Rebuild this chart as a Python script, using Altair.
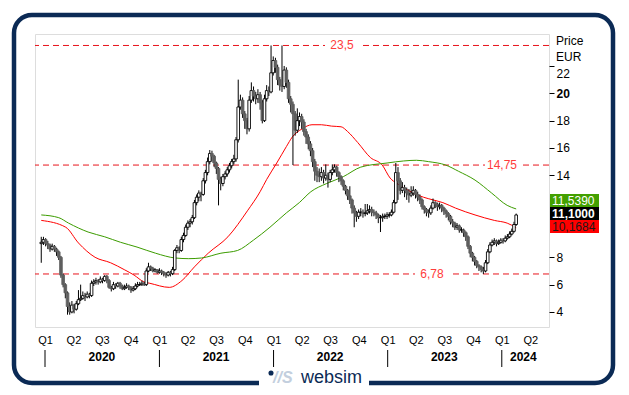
import altair as alt
import pandas as pd

# ---------------- data ----------------
start_date = "2019-12-20"   # first weekly candle
closes = [9.1, 9.3, 9.0, 8.9, 8.6, 8.8, 8.6, 8.4, 8.0, 6.7,
          6.0, 5.4, 4.4, 4.0, 4.5, 4.2, 4.6, 4.9, 5.0, 5.2,
          5.1, 5.3, 5.2, 6.1, 6.2, 6.3, 6.2, 6.4, 6.3, 6.6,
          6.3, 5.8, 5.7, 6.0, 5.9, 6.1, 5.9, 5.7, 5.8, 5.9,
          5.8, 5.6, 5.7, 5.9, 6.0, 6.0, 6.1, 6.0, 7.0, 7.3,
          7.2, 7.0, 7.1, 6.9, 7.0, 6.9, 6.8, 6.7, 6.9, 6.8,
          7.1, 8.5, 8.7, 8.5, 9.3, 9.6, 10.2, 10.5, 10.6, 10.9,
          12.0, 12.4, 12.7, 12.6, 13.6, 14.2, 15.0, 15.6, 15.4, 14.9,
          14.5, 13.7, 13.4, 13.9, 14.1, 14.4, 14.7, 15.0, 15.2, 16.6,
          19.0, 19.5, 18.5, 18.0, 17.4, 19.5, 20.2, 19.8, 19.6, 19.9,
          19.3, 18.0, 19.6, 20.2, 20.1, 21.5, 22.4, 21.9, 21.0, 20.6,
          20.5, 21.7, 20.8, 19.6, 19.2, 18.5, 17.3, 18.0, 18.3, 17.9,
          17.2, 16.8, 16.3, 15.8, 15.0, 14.3, 14.0, 13.9, 14.2, 13.8,
          14.0, 13.7, 14.2, 14.4, 14.6, 14.2, 13.9, 13.6, 13.2, 12.9,
          12.5, 12.2, 11.6, 11.25, 11.0, 11.3, 11.3, 11.2, 11.25, 11.4,
          11.5, 11.3, 11.25, 11.1, 10.9, 10.9, 11.0, 11.0, 11.1, 11.1,
          11.3, 12.0, 14.2, 13.6, 12.9, 13.1, 12.9, 12.7, 12.55, 12.7,
          12.9, 12.6, 12.4, 12.2, 11.7, 11.5, 11.3, 11.25, 11.6, 12.0,
          11.9, 11.7, 11.8, 11.6, 11.4, 11.2, 11.0, 10.6, 10.5, 10.2,
          10.3, 10.0, 10.0, 9.8, 9.5, 8.8, 8.3, 8.0, 7.7, 7.4,
          7.3, 7.1, 7.0, 7.6, 8.4, 8.9, 9.1, 9.2, 9.0, 9.1,
          9.25, 9.2, 9.4, 9.5, 9.7, 9.9, 10.4, 11.1]
first_open = 9.0
highs = [9.5, 9.5, 9.4, 9.2, 9.0, 9.0, 8.9, 8.7, 8.5, 8.1,
         6.8, 6.1, 5.5, 4.7, 4.8, 4.6, 4.8, 5.6, 6.0, 5.5,
         5.4, 5.5, 5.4, 6.3, 6.4, 6.5, 6.4, 6.6, 6.5, 6.7,
         6.7, 6.4, 5.9, 6.2, 6.1, 6.2, 6.2, 6.0, 6.0, 6.1,
         6.0, 5.9, 5.9, 6.1, 6.2, 6.2, 6.3, 6.2, 7.2, 7.6,
         7.4, 7.3, 7.2, 7.1, 7.2, 7.1, 7.0, 6.9, 7.0, 7.0,
         7.3, 8.6, 8.9, 8.8, 9.5, 9.8, 10.4, 10.7, 10.8, 11.1,
         12.2, 12.6, 12.9, 12.8, 13.8, 14.4, 15.3, 15.85, 15.8, 15.5,
         15.0, 14.6, 13.9, 14.1, 14.3, 14.6, 14.9, 15.2, 15.5, 16.8,
         21.0, 19.9, 19.7, 18.7, 18.2, 19.8, 20.8, 20.5, 20.1, 20.3,
         20.1, 19.5, 19.9, 20.6, 20.5, 23.5, 22.7, 22.6, 22.1, 21.2,
         23.5, 22.0, 21.9, 21.0, 19.8, 19.4, 18.7, 18.9, 18.6, 18.5,
         18.1, 17.4, 17.0, 16.5, 16.0, 15.2, 14.6, 14.5, 14.6, 14.4,
         14.8, 14.2, 14.4, 14.8, 14.8, 14.7, 14.3, 14.0, 13.7, 13.3,
         13.0, 13.2, 12.3, 11.8, 11.4, 11.5, 11.6, 11.5, 11.9, 11.9,
         11.8, 11.7, 11.5, 11.4, 11.2, 11.1, 11.2, 11.2, 11.3, 11.3,
         11.5, 12.2, 14.9, 14.6, 13.8, 13.5, 13.3, 13.1, 13.0, 13.2,
         13.2, 13.0, 12.8, 12.6, 12.3, 11.8, 11.6, 11.5, 11.8, 12.3,
         12.1, 12.0, 12.0, 11.9, 11.7, 11.5, 11.3, 11.1, 10.8, 10.6,
         10.5, 10.4, 10.2, 10.1, 9.9, 9.6, 8.9, 8.4, 8.1, 7.8,
         7.5, 7.4, 7.3, 7.8, 8.6, 9.1, 9.3, 9.4, 9.3, 9.3,
         9.4, 9.4, 9.6, 9.7, 9.9, 10.1, 10.6, 11.2]
lows = [7.6, 8.9, 8.8, 8.6, 8.4, 8.5, 8.4, 8.1, 7.8, 6.5,
        5.8, 5.0, 3.8, 3.8, 3.9, 3.9, 4.1, 4.5, 4.8, 4.9,
        4.8, 5.0, 5.0, 5.1, 5.9, 6.0, 6.0, 6.1, 6.1, 6.2,
        6.1, 5.7, 5.5, 5.6, 5.7, 5.8, 5.7, 5.6, 5.6, 5.7,
        5.6, 5.4, 5.5, 5.6, 5.8, 5.9, 5.9, 5.9, 5.9, 6.9,
        7.0, 6.9, 6.9, 6.8, 6.8, 6.7, 6.6, 6.5, 6.6, 6.6,
        6.7, 7.0, 8.3, 8.3, 8.4, 9.1, 9.5, 10.0, 10.2, 10.4,
        10.8, 11.8, 12.1, 12.1, 12.5, 13.4, 14.0, 14.8, 15.0, 14.6,
        14.1, 11.8, 12.9, 13.2, 13.7, 13.9, 14.2, 14.5, 14.8, 15.0,
        16.4, 18.8, 18.2, 17.4, 17.0, 17.2, 19.3, 19.4, 19.2, 19.3,
        18.8, 17.8, 17.9, 19.4, 19.8, 20.0, 21.3, 21.5, 20.6, 20.2,
        20.1, 20.3, 20.4, 19.3, 18.6, 14.75, 16.9, 17.1, 17.6, 17.4,
        16.9, 16.3, 15.9, 15.4, 14.6, 13.6, 13.5, 13.5, 13.6, 13.4,
        13.6, 13.1, 13.5, 14.0, 14.2, 13.9, 13.5, 13.3, 12.9, 12.6,
        12.2, 11.9, 11.2, 10.2, 10.6, 10.8, 11.0, 10.9, 11.0, 11.1,
        11.2, 11.0, 11.0, 10.8, 10.5, 9.85, 10.6, 10.8, 10.8, 10.9,
        11.0, 11.2, 11.9, 12.2, 12.6, 12.7, 12.4, 12.2, 12.0, 12.4,
        12.5, 12.3, 12.1, 11.9, 11.5, 11.2, 11.0, 10.9, 11.1, 11.5,
        11.6, 11.4, 11.5, 11.3, 11.1, 10.9, 10.7, 10.4, 10.2, 10.0,
        10.0, 9.8, 9.8, 9.5, 9.2, 8.6, 8.0, 7.7, 7.4, 7.2,
        7.0, 6.9, 6.78, 6.9, 7.5, 8.3, 8.8, 8.9, 8.8, 8.9,
        9.0, 9.0, 9.1, 9.3, 9.4, 9.6, 9.8, 10.3]

# moving averages read at points (week index from first candle, value)
ma_red_week = [0, 11.2, 17, 24.6, 31.7, 37.9, 42.4, 46.9, 49.6, 58.5, 64.3, 70,
               76.3, 85.3, 94.2, 100, 103, 107.6, 112, 114.7, 119.2, 123.7, 128,
               132.6, 137, 140, 144.6, 150.4, 155.8, 159.4, 162.5, 165.6, 170,
               174.6, 179, 183.5, 189.3, 198.2, 207, 212.9, 217]
ma_red_val = [10.7, 10.2, 9.05, 8.0, 7.6, 7.1, 6.7, 6.2, 6.1, 5.8, 6.3, 7.3,
              8.3, 9.5, 11.4, 12.8, 13.7, 14.9, 16.1, 16.8, 17.4, 17.7, 17.7,
              17.6, 17.55, 17.2, 16.4, 15.3, 14.75, 13.8, 13.4, 13.1, 12.7,
              12.4, 12.2, 12.0, 11.6, 11.1, 10.7, 10.5, 10.1684]
ma_green_week = [0, 8, 12.5, 21.4, 29, 36.2, 43.75, 52.2, 61.2, 67.4, 73.2, 82.1,
                 89.7, 96.9, 104.5, 112, 117.9, 123.2, 130.4, 138, 146, 158,
                 165.6, 171.4, 177, 184.8, 190.6, 198.2, 205.8, 212.9, 217]
ma_green_val = [11.1, 10.9, 10.5, 9.85, 9.5, 9.1, 8.75, 8.3, 7.95, 7.9, 7.95, 8.3,
                8.5, 9.25, 10.2, 11.25, 12.0, 12.8, 13.4, 13.9, 14.6, 14.9,
                15.05, 15.1, 15.0, 14.75, 14.3, 13.65, 12.7, 11.8, 11.539]

levels = [23.5, 14.75, 6.78]
level_labels = ["23,5", "14,75", "6,78"]
last_values = [11.5390, 11.1000, 10.1684]
y_ticks = [4, 6, 8, 14, 16, 18, 20, 22]   # 10 and 12 sit behind the value boxes
years = ["2020", "2021", "2022", "2023", "2024"]
year_starts = ["2020-01-01", "2021-01-01", "2022-01-01", "2023-01-01", "2024-01-01"]
year_label_dates = ["2020-07-01", "2021-07-01", "2022-07-01", "2023-07-01", "2024-03-10"]

# ---------------- layout / style ----------------
W, H = 514, 293
NAVY = "#0b2a55"
FONT = "Liberation Sans"
x_dom = ["2019-12-16", "2024-05-15"]
y_dom = [2.9, 24.34]

t0 = pd.Timestamp(start_date)
dates = [t0 + pd.Timedelta(days=7 * i) for i in range(len(closes))]
opens = [first_open] + closes[:-1]
df = pd.DataFrame({
    "date": [d.strftime("%Y-%m-%d") for d in dates],
    "open": opens, "high": highs, "low": lows, "close": closes,
})
df["up"] = df["close"] >= df["open"]

def wk(w):
    return (t0 + pd.Timedelta(days=7 * w)).strftime("%Y-%m-%d %H:%M")

red_df = pd.DataFrame({"date": [wk(w) for w in ma_red_week], "v": ma_red_val})
green_df = pd.DataFrame({"date": [wk(w) for w in ma_green_week], "v": ma_green_val})

xs = alt.Scale(type="utc", domain=x_dom)
ys = alt.Scale(domain=y_dom, nice=False, zero=False)

q_values = [alt.DateTime(year=y, month=m, date=1, utc=True)
            for y in range(2020, 2025) for m in (1, 4, 7, 10) if not (y == 2024 and m > 4)]

x_axis = alt.Axis(values=q_values, labelExpr="'Q' + utcquarter(datum.value)",
                  ticks=False, domain=False, grid=False, labelFont=FONT,
                  labelFontSize=11, labelColor="black", labelPadding=7, title=None,
                  labelFlush=False, labelOverlap=False)
y_axis = alt.Axis(orient="right", values=y_ticks, tickSize=5, tickColor="black",
                  domain=False, grid=False, labelFont=FONT, labelFontSize=12,
                  labelColor="black", labelPadding=2, title=None,
                  labelFontWeight={"condition": {"test": "datum.value == 20", "value": "bold"}, "value": "normal"},
                  labelOffset={"condition": {"test": "datum.value == 22", "value": 8}, "value": 0},
                  labelOverlap=False, labelFlush=False)

def X(field):
    return alt.X(field, scale=xs, axis=x_axis)

def Y(field):
    return alt.Y(field, scale=ys, axis=y_axis)

one = pd.DataFrame({"k": [0]})

# outer rounded frame
frame = alt.Chart(one).mark_rect(cornerRadius=18, fillOpacity=0, stroke=NAVY, strokeWidth=4.5).encode(
    x=alt.value(-21), x2=alt.value(578), y=alt.value(-19), y2=alt.value(349))
frame_gap = alt.Chart(one).mark_rect(color="white").encode(
    x=alt.value(224), x2=alt.value(334), y=alt.value(340), y2=alt.value(358))
logo_dot = alt.Chart(one).mark_circle(color=NAVY, size=26, opacity=1).encode(
    x=alt.value(236), y=alt.value(339))
logo_mark = alt.Chart(one).mark_text(text="//S", font=FONT, fontSize=16, fontWeight="bold",
                                     fontStyle="italic", color="#c3cfde", align="left",
                                     baseline="middle").encode(x=alt.value(238), y=alt.value(344))
logo_text = alt.Chart(one).mark_text(text="websim", font=FONT, fontSize=18, color=NAVY,
                                     align="left", baseline="middle").encode(
    x=alt.value(266), y=alt.value(344))

# horizontal levels
lev_df = pd.DataFrame({"level": levels, "label": level_labels, "px": [307, 467, 397]})
hlines = alt.Chart(lev_df).mark_rule(color="#e8141c", strokeDash=[6, 4], strokeWidth=1).encode(
    y=Y("level:Q"))
lev_bg = alt.Chart(lev_df).mark_rect(color="white").encode(
    x=alt.X("x1:Q", scale=None), x2="x2:Q",
    y=Y("lo:Q"), y2="hi:Q").transform_calculate(
    x1="datum.px - 17", x2="datum.px + 17", lo="datum.level - 0.4", hi="datum.level + 0.4")
lev_txt = alt.Chart(lev_df).mark_text(color="#ff3b3b", font=FONT, fontSize=12, baseline="middle").encode(
    x=alt.X("px:Q", scale=None), y=Y("level:Q"), text="label:N")

# candles
wicks = alt.Chart(df).mark_rule(color="black", strokeWidth=1).encode(
    x=X("date:T"), y=Y("low:Q"), y2="high:Q")
bodies = alt.Chart(df).mark_bar(size=2.6, strokeWidth=0.9).encode(
    x=X("date:T"), y=Y("open:Q"), y2="close:Q",
    fill=alt.condition("datum.up", alt.value("white"), alt.value("#5f5f5f")),
    stroke=alt.condition("datum.up", alt.value("black"), alt.value("#5f5f5f")))

red_line = alt.Chart(red_df).mark_line(color="#ff0000", strokeWidth=1, interpolate="monotone").encode(
    x=X("date:T"), y=Y("v:Q"))
green_line = alt.Chart(green_df).mark_line(color="#3c9c00", strokeWidth=1, interpolate="monotone").encode(
    x=X("date:T"), y=Y("v:Q"))

# year labels and separators
yr_df = pd.DataFrame({"start": year_starts, "mid": year_label_dates, "year": years})
yr_rules = alt.Chart(yr_df).mark_rule(color="black", strokeWidth=1).encode(
    x=X("start:T"), y=alt.value(316), y2=alt.value(333))
yr_text = alt.Chart(yr_df).mark_text(font=FONT, fontSize=12, fontWeight="bold", color="black",
                                     baseline="middle").encode(
    x=X("mid:T"), y=alt.value(323), text="year:N")

# right boxes
box_df = pd.DataFrame({
    "label": [f"{v:.4f}".replace(".", ",") for v in last_values],
    "fill": ["#43a000", "#000000", "#ff0000"],
    "tcol": ["#ffffff", "#ffffff", "#1a1a1a"],
    "weight": ["normal", "bold", "normal"],
    "top": [160, 173, 186],
})
box_df["bot"] = box_df["top"] + 13
box_df["mid"] = box_df["top"] + 6.5
boxes = alt.Chart(box_df).mark_rect().encode(
    x=alt.value(515), x2=alt.value(564),
    y=alt.Y("top:Q", scale=None), y2="bot:Q",
    color=alt.Color("fill:N", scale=None))
box_txt_n = alt.Chart(box_df[box_df["weight"] == "normal"]).mark_text(
    font=FONT, fontSize=12, align="left", baseline="middle").encode(
    x=alt.value(517), y=alt.Y("mid:Q", scale=None), text="label:N",
    color=alt.Color("tcol:N", scale=None))
box_txt_b = alt.Chart(box_df[box_df["weight"] == "bold"]).mark_text(
    font=FONT, fontSize=12, fontWeight="bold", align="left", baseline="middle").encode(
    x=alt.value(517), y=alt.Y("mid:Q", scale=None), text="label:N",
    color=alt.Color("tcol:N", scale=None))

price_t = alt.Chart(one).mark_text(text="Price", font=FONT, fontSize=12, color="black",
                                   align="left", baseline="middle").encode(x=alt.value(521), y=alt.value(7))
eur_t = alt.Chart(one).mark_text(text="EUR", font=FONT, fontSize=12, color="black",
                                 align="left", baseline="middle").encode(x=alt.value(521), y=alt.value(23))

chart = alt.layer(
    frame, frame_gap, logo_dot, logo_mark, logo_text,
    hlines, lev_bg, lev_txt,
    red_line, green_line,
    wicks, bodies,
    yr_rules, yr_text,
    boxes, box_txt_n, box_txt_b,
    price_t, eur_t,
).properties(
    width=W, height=H,
    autosize=alt.AutoSizeParams(type="none"),
    padding={"left": 27, "top": 26, "right": 72, "bottom": 60},
).configure_view(stroke="#8a8a9a", strokeWidth=1.5).configure(background="white")

chart.save("out.html", embed_options={"renderer": "svg", "actions": False})
